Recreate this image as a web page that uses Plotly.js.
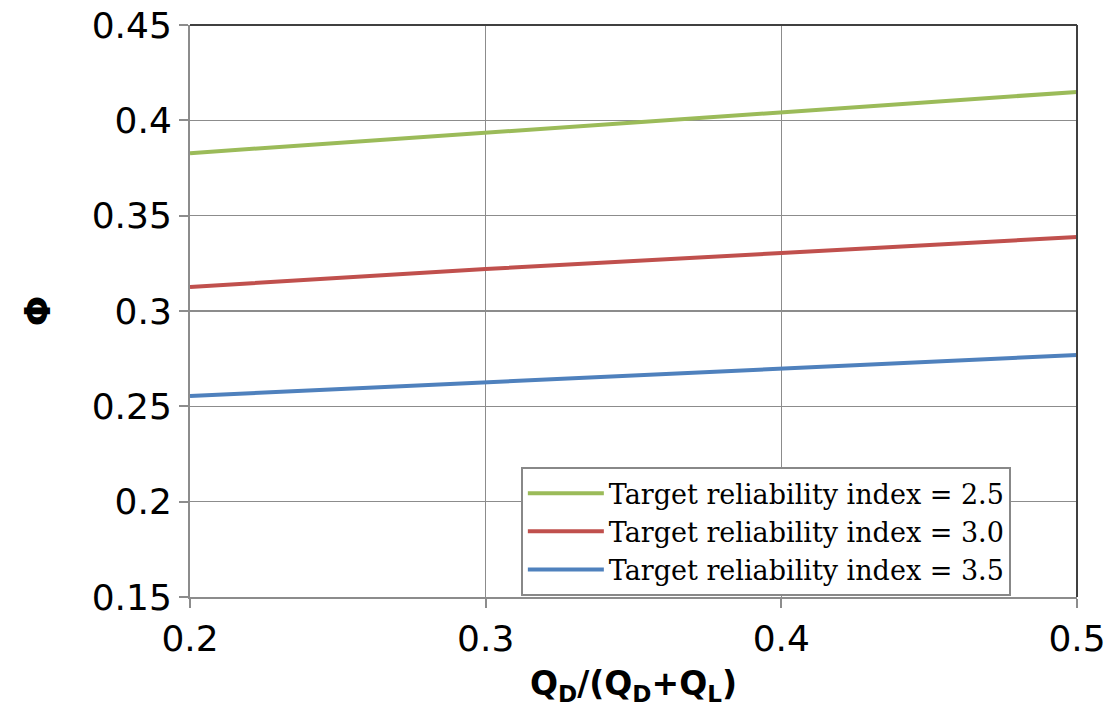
<!DOCTYPE html>
<html><head><meta charset="utf-8">
<script src="https://cdn.plot.ly/plotly-3.0.1.min.js"></script>
<style>body{margin:0;background:#fff}#chart{width:1109px;height:715px}</style>
</head><body><div id="chart"></div>
<script>
const ratio = [0.2, 0.3, 0.4, 0.5];
const phi25 = [0.3828, 0.3934, 0.4042, 0.4149];
const phi30 = [0.3126, 0.3220, 0.3304, 0.3388];
const phi35 = [0.2554, 0.2627, 0.2700, 0.2769];
const names = ["Target reliability index = 2.5", "Target reliability index = 3.0", "Target reliability index = 3.5"];
const colors = ["#9BBB59", "#C0504D", "#4F81BD"];
const series = [phi25, phi30, phi35];
const xTicks = [0.2, 0.3, 0.4, 0.5];
const xTickText = ["0.2", "0.3", "0.4", "0.5"];
const yTicks = [0.15, 0.2, 0.25, 0.3, 0.35, 0.4, 0.45];
const yTickText = ["0.15", "0.2", "0.25", "0.3", "0.35", "0.4", "0.45"];

const traces = series.map((s, i) => ({
  x: ratio, y: s, name: names[i], mode: "lines", type: "scatter",
  line: {color: colors[i], width: 4}
}));

const tickFont = {family: "'DejaVu Sans', sans-serif", size: 36, color: "#000"};
const layout = {
  width: 1109, height: 715,
  margin: {l: 190, r: 32, t: 25, b: 118},
  paper_bgcolor: "#fff", plot_bgcolor: "#fff",
  showlegend: true,
  legend: {
    x: 0.373, y: 0.227, xanchor: "left", yanchor: "top",
    bgcolor: "#fff", bordercolor: "#888", borderwidth: 2,
    font: {family: "'DejaVu Serif', 'Liberation Serif', serif", size: 27, color: "#000"},
    tracegroupgap: 0, itemwidth: 76
  },
  xaxis: {
    range: [0.2, 0.5], tickvals: xTicks, ticktext: xTickText,
    showgrid: true, gridcolor: "#8c8c8c", gridwidth: 1.5,
    showline: true, linecolor: "#8c8c8c", linewidth: 2,
    ticks: "outside", ticklen: 9, tickcolor: "#8c8c8c", tickwidth: 2,
    tickfont: tickFont, zeroline: false,
    title: {text: "<b>Q<sub>D</sub>/(Q<sub>D</sub>+Q<sub>L</sub>)</b>", font: {family: "'DejaVu Sans', sans-serif", size: 33, color: "#000"}, standoff: 14}
  },
  yaxis: {
    range: [0.15, 0.45], tickvals: yTicks, ticktext: yTickText,
    showgrid: true, gridcolor: "#8c8c8c", gridwidth: 1.5,
    showline: true, linecolor: "#8c8c8c", linewidth: 2,
    ticks: "outside", ticklen: 9, tickcolor: "#8c8c8c", tickwidth: 2,
    tickfont: tickFont, zeroline: false,
    title: {text: "<b>Φ</b>", font: {family: "'DejaVu Sans', sans-serif", size: 36, color: "#000"}, standoff: 30}
  },
  shapes: [
    {type: "line", xref: "paper", yref: "paper", x0: 0, x1: 1, y0: 1, y1: 1, line: {color: "#404040", width: 2}},
    {type: "line", xref: "paper", yref: "paper", x0: 1, x1: 1, y0: 0, y1: 1, line: {color: "#404040", width: 2}}
  ]
};
Plotly.newPlot("chart", traces, layout, {displayModeBar: false, staticPlot: true});
</script></body></html>
